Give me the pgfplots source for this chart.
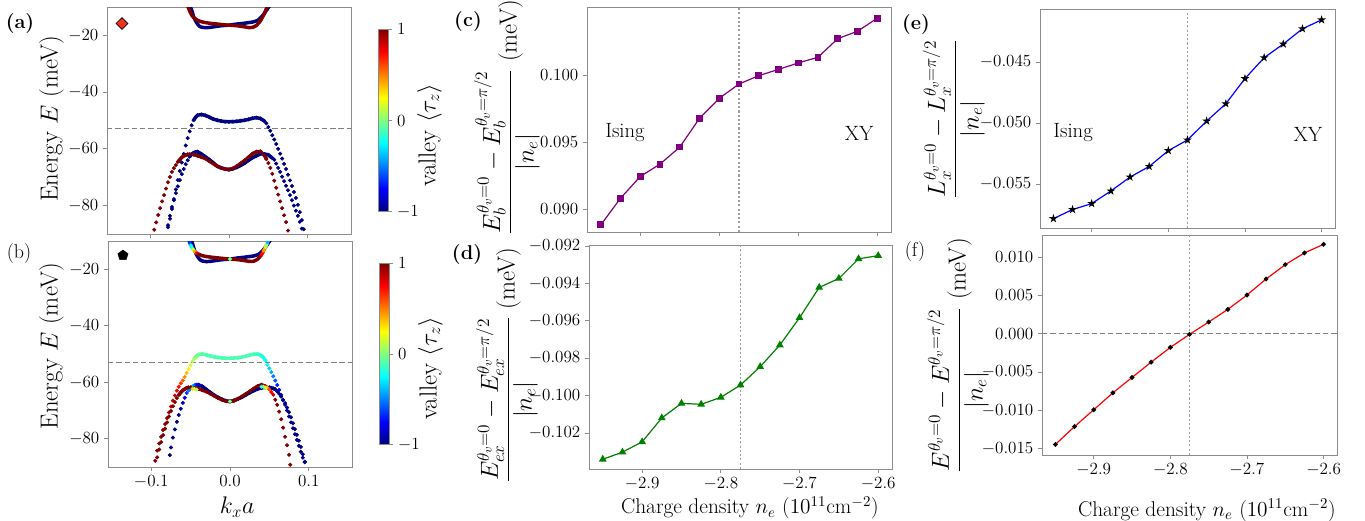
\RequirePackage{fix-cm}
\documentclass[border=0pt]{standalone}
\usepackage{pgfplots}
\usepackage{pgfplotstable}
\pgfplotsset{compat=1.18}
\usetikzlibrary{plotmarks}
\definecolor{jr}{rgb}{0.5,0,0}
\definecolor{jb}{rgb}{0,0,0.5}
\definecolor{dred}{rgb}{0.93,0.2,0.12}
\definecolor{pur}{rgb}{0.5,0,0.5}
\definecolor{grn}{rgb}{0,0.5,0}
\newcommand\fs[1]{\fontsize{#1}{#1}\selectfont}
\pgfdeclareplotmark{fstar}{%
 \pgfpathmoveto{\pgfqpoint{0pt}{\pgfplotmarksize}}%
 \pgfpathlineto{\pgfqpoint{0.2245\pgfplotmarksize}{0.309\pgfplotmarksize}}%
 \pgfpathlineto{\pgfqpoint{0.951\pgfplotmarksize}{0.309\pgfplotmarksize}}%
 \pgfpathlineto{\pgfqpoint{0.3633\pgfplotmarksize}{-0.118\pgfplotmarksize}}%
 \pgfpathlineto{\pgfqpoint{0.5878\pgfplotmarksize}{-0.809\pgfplotmarksize}}%
 \pgfpathlineto{\pgfqpoint{0pt}{-0.382\pgfplotmarksize}}%
 \pgfpathlineto{\pgfqpoint{-0.5878\pgfplotmarksize}{-0.809\pgfplotmarksize}}%
 \pgfpathlineto{\pgfqpoint{-0.3633\pgfplotmarksize}{-0.118\pgfplotmarksize}}%
 \pgfpathlineto{\pgfqpoint{-0.951\pgfplotmarksize}{0.309\pgfplotmarksize}}%
 \pgfpathlineto{\pgfqpoint{-0.2245\pgfplotmarksize}{0.309\pgfplotmarksize}}%
 \pgfpathclose
 \pgfusepathqfillstroke}

\pgfplotsset{
 base/.style={scale only axis, axis line style={black!45}, tick align=outside, tick pos=left,
   major tick length=3pt, tick style={black!45, line width=0.6pt},
   tick label style={font=\fs{12.8}}, scaled x ticks=false, scaled y ticks=false},
 cbar/.style={scale only axis, width=7.5pt, at={(parent axis.east)}, anchor=west, xshift=12pt,
   ytick={-1,0,1}, yticklabels={$-1$,$0$,$1$}, yticklabel style={font=\fs{12.8}},
   axis line style={black!45}, ytick style={black!45, line width=0.6pt}, major tick length=3pt,
   tick align=outside, ytick pos=right, yticklabel pos=right,
   ylabel={valley $\langle\tau_z\rangle$},
   ylabel style={font=\fs{18.5}, at={(axis description cs:5.1,0.42)}, anchor=center}},
 bandpt/.style={only marks, mark=*, mark size=1.3pt},
 bandln/.style={line width=2.6pt, line cap=round, line join=round, unbounded coords=jump, no marks},
 scpt/.style={scatter, only marks, mark=*, mark size=1.3pt, scatter src=explicit,
   scatter/use mapped color={draw=mapped color, fill=mapped color}},
 scln/.style={mesh, line width=2.6pt, line cap=round, point meta=explicit, unbounded coords=jump, no marks},
 vdot/.style={black!38, line width=0.8pt, dash pattern=on 1.6pt off 1.6pt},
 hdash/.style={black!50, line width=0.8pt, dash pattern=on 4pt off 2.2pt},
}

% ---------- panel (a) bands ----------
\pgfplotstableread{
k E
-0.0775 -87.6
-0.0750 -84.6
-0.0725 -81.2
-0.0700 -77.7
-0.0675 -74.3
-0.0650 -71.0
-0.0625 -67.8
-0.0600 -64.8
-0.0575 -61.8
-0.0550 -58.8
-0.0525 -56.2
-0.0500 -53.8
-0.0475 -51.7
-0.0450 -49.9
-0.0425 -48.9
-0.0400 -48.15
-0.0350 -47.9
-0.0300 -48.2
-0.0250 -48.8
-0.0200 -49.5
-0.0150 -49.9
-0.0100 -50.2
-0.0050 -50.4
0.0000 -50.45
0.0050 -50.4
0.0100 -50.3
0.0150 -50.1
0.0200 -49.9
0.0250 -49.6
0.0300 -49.2
0.0350 -49.0
0.0400 -49.3
0.0450 -50.2
0.0475 -51.0
0.0500 -52.3
0.0525 -53.6
0.0550 -55.2
0.0575 -56.7
0.0600 -58.3
0.0625 -60.0
0.0650 -61.7
0.0675 -63.4
0.0700 -65.3
0.0725 -67.1
0.0750 -69.1
0.0775 -71.1
0.0800 -73.1
0.0825 -75.2
0.0850 -77.3
0.0875 -79.7
0.0900 -82.3
0.0925 -85.1
0.0950 -88.3
}\aT
\pgfplotstableread{
k E
-0.0775 -86.9
-0.0750 -83.6
-0.0725 -80.5
-0.0700 -78.1
-0.0675 -75.6
-0.0650 -73.2
-0.0625 -71.0
-0.0600 -68.9
-0.0575 -67.1
-0.0550 -65.4
-0.0525 -64.0
-0.0500 -62.75
-0.0475 -61.9
-0.0450 -61.4
-0.0425 -61.1
-0.0400 -61.0
-0.0350 -61.8
-0.0300 -62.8
-0.0250 -63.8
-0.0200 -64.9
-0.0150 -66.1
-0.0100 -66.7
-0.0050 -67.1
0.0000 -67.3
0.0050 -67.0
0.0100 -66.5
0.0150 -65.8
0.0200 -65.0
0.0250 -64.0
0.0300 -63.1
0.0350 -62.4
0.0400 -61.8
0.0450 -61.8
0.0500 -62.1
0.0525 -62.7
0.0550 -63.2
0.0575 -63.8
0.0600 -65.2
0.0625 -66.7
0.0650 -68.1
0.0675 -69.8
0.0700 -71.4
0.0725 -73.0
0.0750 -74.6
0.0775 -76.3
0.0800 -78.1
0.0825 -80.0
0.0850 -81.8
0.0875 -83.6
0.0900 -85.7
0.0925 -88.1
}\aB
\pgfplotstableread{
k E
-0.0950 -88.5
-0.0925 -85.9
-0.0900 -83.3
-0.0875 -80.9
-0.0850 -78.5
-0.0825 -76.3
-0.0800 -74.0
-0.0775 -71.8
-0.0750 -69.9
-0.0725 -68.1
-0.0700 -66.8
-0.0675 -65.7
-0.0650 -64.6
-0.0625 -63.8
-0.0600 -63.0
-0.0575 -62.5
-0.0550 -62.2
-0.0525 -61.95
-0.0500 -61.9
-0.0450 -62.0
-0.0400 -62.4
-0.0350 -62.9
-0.0300 -63.4
-0.0250 -64.3
-0.0200 -65.2
-0.0150 -66.1
-0.0100 -66.7
-0.0050 -67.1
0.0000 -67.3
0.0050 -66.9
0.0100 -66.1
0.0150 -65.1
0.0200 -64.1
0.0250 -62.9
0.0300 -61.7
0.0350 -61.0
0.0400 -60.9
0.0450 -62.3
0.0475 -63.6
0.0500 -65.0
0.0525 -66.7
0.0550 -68.8
0.0575 -71.2
0.0600 -73.7
0.0625 -76.1
0.0650 -78.5
0.0675 -80.9
0.0700 -83.4
0.0725 -85.8
0.0750 -88.8
}\aC
\pgfplotstableread{
k E
-0.0525 -9.6
-0.0500 -11.4
-0.0475 -12.8
-0.0450 -13.7
-0.0425 -14.2
-0.0400 -14.7
-0.0350 -15.2
-0.0300 -15.5
-0.0250 -15.7
-0.0200 -15.85
-0.0150 -16.0
-0.0100 -16.15
-0.0050 -16.3
0.0000 -16.4
0.0050 -16.5
0.0100 -16.6
0.0150 -16.8
0.0200 -17.0
0.0250 -17.25
0.0300 -17.2
0.0350 -16.5
0.0375 -15.7
0.0400 -14.9
0.0425 -13.6
0.0450 -12.3
0.0475 -10.6
0.0490 -9.6
}\aCr
\pgfplotstableread{
k E
-0.0500 -9.6
-0.0475 -11.0
-0.0450 -13.4
-0.0425 -14.9
-0.0400 -16.0
-0.0375 -16.8
-0.0350 -17.1
-0.0300 -17.3
-0.0250 -17.2
-0.0200 -17.0
-0.0150 -16.8
-0.0100 -16.6
-0.0050 -16.5
0.0000 -16.4
0.0050 -16.2
0.0100 -16.0
0.0150 -15.85
0.0200 -15.7
0.0250 -15.5
0.0300 -15.3
0.0350 -14.9
0.0375 -14.5
0.0400 -13.8
0.0425 -13.1
0.0450 -12.2
0.0475 -11.2
0.0500 -10.2
0.0525 -9.2
}\aCb

% ---------- panel (b) bands (k, E, valley) ----------
\pgfplotstableread{
k E c
-0.0950 -87.8 1
-0.0925 -84.2 1
-0.0900 -81.7 1
-0.0875 -79.3 1
-0.0850 -76.9 1
-0.0825 -74.8 0.97
-0.0800 -72.7 0.95
-0.0775 -70.7 0.92
-0.0750 -68.6 0.9
-0.0725 -66.5 0.87
-0.0700 -64.7 0.83
-0.0675 -63.0 0.78
-0.0650 -61.6 0.73
-0.0625 -60.4 0.65
-0.0600 -59.4 0.57
-0.0575 -58.1 0.48
-0.0550 -56.7 0.38
-0.0525 -55.3 0.28
-0.0500 -53.9 0.18
-0.0475 -52.5 0.1
-0.0450 -51.5 0.03
-0.0425 -50.7 0
-0.0400 -50.2 -0.05
-0.0350 -50.0 -0.08
-0.0300 -50.3 -0.1
-0.0250 -50.7 -0.1
-0.0200 -51.0 -0.1
-0.0150 -51.25 -0.1
-0.0100 -51.4 -0.1
-0.0050 -51.5 -0.1
0.0000 -51.5 -0.1
0.0050 -51.45 -0.1
0.0100 -51.3 -0.1
0.0150 -51.1 -0.1
0.0200 -50.8 -0.1
0.0250 -50.4 -0.1
0.0300 -50.1 -0.12
0.0350 -50.0 -0.14
0.0400 -50.6 -0.18
0.0425 -51.3 -0.2
0.0450 -52.3 -0.22
0.0475 -53.8 -0.26
0.0500 -55.1 -0.33
0.0525 -56.4 -0.42
0.0550 -57.9 -0.5
0.0575 -59.4 -0.6
0.0600 -61.0 -0.68
0.0625 -62.7 -0.75
0.0650 -64.5 -0.8
0.0675 -66.3 -0.85
0.0700 -68.0 -0.9
0.0725 -70.0 -0.93
0.0750 -72.1 -0.96
0.0775 -74.2 -1
0.0800 -76.3 -1
0.0825 -78.4 -1
0.0850 -80.4 -1
0.0875 -82.5 -1
0.0900 -84.6 -1
0.0925 -86.7 -1
0.0950 -88.3 -1
}\bT
\pgfplotstableread{
k E c
-0.0765 -85.8 -1
-0.0750 -83.1 -1
-0.0725 -79.6 -1
-0.0700 -76.7 -1
-0.0675 -74.0 -1
-0.0650 -71.6 -1
-0.0625 -69.4 -0.95
-0.0600 -67.3 -0.9
-0.0575 -65.5 -0.8
-0.0550 -63.8 -0.65
-0.0525 -62.9 -0.5
-0.0500 -62.1 -0.4
-0.0475 -61.5 -0.4
-0.0450 -61.1 -0.5
-0.0425 -60.9 -0.7
-0.0400 -60.9 -0.85
-0.0350 -61.5 -1
-0.0300 -62.6 -1
-0.0250 -63.6 -1
-0.0200 -64.6 -1
-0.0150 -65.4 -1
-0.0100 -66.1 -1
-0.0050 -66.6 -1
0.0000 -66.8 -1
0.0050 -66.5 -1
0.0100 -65.9 -1
0.0150 -65.3 -1
0.0200 -64.5 -1
0.0250 -63.7 -1
0.0300 -63.0 -1
0.0350 -62.4 -1
0.0400 -62.0 -1
0.0450 -61.8 -1
0.0500 -61.8 -1
0.0525 -62.0 -1
0.0550 -62.2 -1
0.0575 -62.5 -1
0.0600 -63.3 -1
0.0625 -64.1 -1
0.0650 -65.1 -1
0.0675 -66.3 -1
0.0700 -67.4 -1
0.0725 -69.0 -1
0.0750 -70.6 -1
0.0775 -72.4 -1
0.0800 -74.5 -1
0.0825 -76.6 -1
0.0850 -78.6 -1
0.0875 -80.7 -1
0.0900 -82.9 -1
0.0925 -85.5 -1
0.0950 -88.1 -1
}\bB
\pgfplotstableread{
k E c
-0.0925 -86.6 1
-0.0900 -83.8 1
-0.0875 -81.2 1
-0.0850 -78.7 1
-0.0825 -76.4 1
-0.0800 -74.2 1
-0.0775 -72.1 1
-0.0750 -70.2 1
-0.0725 -68.5 1
-0.0700 -67.0 1
-0.0675 -65.6 1
-0.0650 -64.5 1
-0.0625 -63.6 1
-0.0600 -62.9 1
-0.0575 -62.4 1
-0.0550 -62.0 1
-0.0525 -61.8 1
-0.0500 -61.8 1
-0.0450 -62.0 1
-0.0400 -62.3 1
-0.0350 -62.8 1
-0.0300 -63.3 1
-0.0250 -64.0 1
-0.0200 -64.8 1
-0.0150 -65.6 1
-0.0100 -66.2 1
-0.0050 -66.7 1
0.0000 -66.8 1
0.0050 -66.5 1
0.0100 -65.9 1
0.0150 -65.1 1
0.0200 -64.2 1
0.0250 -63.3 1
0.0300 -62.3 1
0.0350 -61.4 1
0.0400 -60.9 1
0.0450 -61.4 0.9
0.0475 -62.0 0.4
0.0500 -62.6 0.6
0.0525 -63.5 0.75
0.0550 -64.4 0.85
0.0575 -66.2 1
0.0600 -68.0 1
0.0625 -70.4 1
0.0650 -73.1 1
0.0675 -76.1 1
0.0700 -79.3 1
0.0725 -82.3 1
0.0750 -85.7 1
0.0765 -89.2 1
}\bC
\pgfplotstableread{
k E c
-0.0525 -9.6 -0.8
-0.0500 -11.4 -0.5
-0.0475 -12.8 0.0
-0.0450 -13.7 0.3
-0.0425 -14.2 0.6
-0.0400 -14.7 1
-0.0350 -15.2 1
-0.0300 -15.5 1
-0.0250 -15.7 1
-0.0200 -15.85 1
-0.0150 -16.0 1
-0.0100 -16.15 1
-0.0050 -16.3 1
0.0000 -16.4 1
0.0050 -16.5 1
0.0100 -16.6 1
0.0150 -16.8 1
0.0200 -17.0 1
0.0250 -17.25 1
0.0300 -17.2 1
0.0350 -16.5 1
0.0375 -15.7 1
0.0400 -14.9 0.9
0.0425 -13.6 0.6
0.0450 -12.3 0.3
0.0475 -10.6 -0.1
0.0490 -9.6 -0.7
}\bCr
\pgfplotstableread{
k E c
-0.0500 -9.6 -1
-0.0475 -11.0 -1
-0.0450 -13.4 -1
-0.0425 -14.9 -1
-0.0400 -16.0 -1
-0.0375 -16.8 -1
-0.0350 -17.1 -1
-0.0300 -17.3 -1
-0.0250 -17.2 -1
-0.0200 -17.0 -1
-0.0150 -16.8 -1
-0.0100 -16.6 -1
-0.0050 -16.5 -1
0.0000 -16.4 -1
0.0050 -16.2 -1
0.0100 -16.0 -1
0.0150 -15.85 -1
0.0200 -15.7 -1
0.0250 -15.5 -1
0.0300 -15.3 -1
0.0350 -14.9 -1
0.0375 -14.5 -1
0.0400 -13.8 -1
0.0425 -13.1 -1
0.0450 -12.2 -1
0.0475 -11.2 -1
0.0500 -10.2 -1
0.0525 -9.2 -1
}\bCb
\pgfplotstableread{
k E c
-0.0475 -62.3 0.35
-0.0450 -62.4 0.2
-0.0425 -62.6 0.1
0.0000 -66.8 0.0
0.0000 -16.4 0.0
0.0400 -61.6 -0.2
0.0425 -61.6 -0.05
0.0450 -61.9 0.15
}\bG

% ---------- panels (c)-(f) ----------
\pgfplotstableread{
n Eb Eex Lx E
-2.950 0.08883 -0.10341 -0.05783 -0.01443
-2.925 0.09082 -0.10303 -0.05709 -0.01209
-2.900 0.09244 -0.10248 -0.05660 -0.00991
-2.875 0.09336 -0.10120 -0.05557 -0.00770
-2.850 0.09463 -0.10042 -0.05443 -0.00570
-2.825 0.09677 -0.10047 -0.05356 -0.00370
-2.800 0.09826 -0.10010 -0.05226 -0.00178
-2.775 0.09933 -0.09944 -0.05139 -0.00009
-2.750 0.09995 -0.09846 -0.04984 0.00152
-2.725 0.10042 -0.09730 -0.04842 0.00317
-2.700 0.10090 -0.09584 -0.04636 0.00504
-2.675 0.10132 -0.09422 -0.04465 0.00713
-2.650 0.10271 -0.09374 -0.04353 0.00900
-2.625 0.10326 -0.09269 -0.04228 0.01052
-2.600 0.10423 -0.09252 -0.04155 0.01165
}\dens

\begin{document}
\begin{tikzpicture}
\useasboundingbox (0,0) rectangle (1023.75pt,390.75pt);

% (a)
\begin{axis}[base, at={(80.25pt,215.25pt)}, anchor=south west, width=183pt, height=170.25pt,
  xmin=-0.155, xmax=0.155, ymin=-90, ymax=-10,
  xtick={-0.1,0,0.1}, xticklabels={},
  ytick={-80,-60,-40,-20}, yticklabels={$-80$,$-60$,$-40$,$-20$},
  ylabel={Energy $E$ (meV)},
  ylabel style={font=\fs{18.5}, at={(axis description cs:-0.228,0.507)}, anchor=center},
  colormap/jet, point meta min=-1, point meta max=1,
  colorbar, colorbar style={cbar, height=136.5pt}]
\addplot[jb, bandln, restrict x to domain=-0.045:0.047] table {\aT};
\addplot[jb, bandpt] table {\aT};
\addplot[jb, bandln, restrict x to domain=-0.052:0.056] table {\aB};
\addplot[jb, bandpt] table {\aB};
\addplot[jr, bandln, restrict x to domain=-0.066:0.049] table {\aC};
\addplot[jr, bandpt] table {\aC};
\addplot[jb, bandln] table {\aCb};
\addplot[jr, bandln] table {\aCr};
\addplot[hdash] coordinates {(-0.155,-52.8) (0.155,-52.8)};
\addplot[only marks, mark=diamond*, mark size=4.4pt, mark options={xscale=1.35, fill=dred, draw=black, line width=0.5pt}] coordinates {(-0.136,-15.8)};
\end{axis}

% (b)
\begin{axis}[base, at={(81pt,40.5pt)}, anchor=south west, width=183pt, height=169.5pt,
  xmin=-0.155, xmax=0.155, ymin=-90, ymax=-10,
  xtick={-0.1,0,0.1}, xticklabels={$-0.1$,$0.0$,$0.1$},
  ytick={-80,-60,-40,-20}, yticklabels={$-80$,$-60$,$-40$,$-20$},
  ylabel={Energy $E$ (meV)},
  ylabel style={font=\fs{18.5}, at={(axis description cs:-0.232,0.535)}, anchor=center},
  xlabel={$k_xa$},
  xlabel style={font=\fs{18}, at={(axis description cs:0.529,-0.177)}, anchor=center},
  colormap/jet, point meta min=-1, point meta max=1,
  colorbar, colorbar style={cbar, height=135.75pt}]
\addplot[scln, restrict x to domain=-0.046:0.046] table[meta=c] {\bT};
\addplot[scpt] table[meta=c] {\bT};
\addplot[scln, restrict x to domain=-0.053:0.058] table[meta=c] {\bB};
\addplot[scpt] table[meta=c] {\bB};
\addplot[scln, restrict x to domain=-0.066:0.049] table[meta=c] {\bC};
\addplot[scpt] table[meta=c] {\bC};
\addplot[scln] table[meta=c] {\bCb};
\addplot[scln] table[meta=c] {\bCr};
\addplot[scpt] table[meta=c] {\bG};
\addplot[hdash] coordinates {(-0.155,-52.9) (0.155,-52.9)};
\addplot[only marks, mark=pentagon*, mark size=4pt, mark options={fill=black, draw=black}] coordinates {(-0.136,-15.1)};
\end{axis}

% (c)
\begin{axis}[base, at={(440.25pt,216.75pt)}, anchor=south west, width=228pt, height=168.75pt,
  xmin=-2.9675, xmax=-2.5825, ymin=0.0883, ymax=0.10507,
  xtick={-2.9,-2.8,-2.7,-2.6}, xticklabels={},
  ytick={0.090,0.095,0.100}, yticklabels={$0.090$,$0.095$,$0.100$},
  ylabel={$\displaystyle\frac{E_b^{\theta_v=0}-E_b^{\theta_v=\pi/2}}{|n_e|}$ (meV)},
  ylabel style={font=\fs{18.5}, at={(axis description cs:-0.263,0.509)}, anchor=center}]
\addplot[vdot] coordinates {(-2.775,0.0883) (-2.775,0.10507)};
\addplot[pur, line width=0.9pt, mark=square*, mark size=2.1pt] table[x=n, y=Eb] {\dens};
\node[font=\fs{15.5}] at (rel axis cs:0.125,0.44) {Ising};
\node[font=\fs{15.5}] at (rel axis cs:0.895,0.436) {XY};
\end{axis}

% (d)
\begin{axis}[base, at={(441.75pt,39pt)}, anchor=south west, width=227.25pt, height=168pt,
  xmin=-2.9675, xmax=-2.5825, ymin=-0.10393, ymax=-0.09195,
  xtick={-2.9,-2.8,-2.7,-2.6}, xticklabels={$-2.9$,$-2.8$,$-2.7$,$-2.6$},
  ytick={-0.102,-0.100,-0.098,-0.096,-0.094,-0.092},
  yticklabels={$-0.102$,$-0.100$,$-0.098$,$-0.096$,$-0.094$,$-0.092$},
  ylabel={$\displaystyle\frac{E_{ex}^{\theta_v=0}-E_{ex}^{\theta_v=\pi/2}}{|n_e|}$ (meV)},
  ylabel style={font=\fs{18.5}, at={(axis description cs:-0.271,0.464)}, anchor=center},
  xlabel={Charge density $n_e$ ($10^{11}$cm$^{-2}$)},
  xlabel style={font=\fs{16}, at={(axis description cs:0.531,-0.174)}, anchor=center}]
\addplot[vdot] coordinates {(-2.775,-0.10393) (-2.775,-0.09195)};
\addplot[grn, line width=0.9pt, mark=triangle*, mark size=2.5pt] table[x=n, y=Eex] {\dens};
\end{axis}

% (e)
\begin{axis}[base, at={(780pt,219.75pt)}, anchor=south west, width=221.25pt, height=164.25pt,
  xmin=-2.9675, xmax=-2.5825, ymin=-0.0586, ymax=-0.04066,
  xtick={-2.9,-2.8,-2.7,-2.6}, xticklabels={},
  ytick={-0.055,-0.050,-0.045}, yticklabels={$-0.055$,$-0.050$,$-0.045$},
  ylabel={$\displaystyle\frac{L_x^{\theta_v=0}-L_x^{\theta_v=\pi/2}}{|n_e|}$},
  ylabel style={font=\fs{18.5}, at={(axis description cs:-0.292,0.498)}, anchor=center}]
\addplot[vdot] coordinates {(-2.775,-0.0586) (-2.775,-0.04066)};
\addplot[blue, line width=0.9pt, mark=fstar, mark size=2.0pt, mark options={black, fill=black}] table[x=n, y=Lx] {\dens};
\node[font=\fs{15.5}] at (rel axis cs:0.112,0.438) {Ising};
\node[font=\fs{15.5}] at (rel axis cs:0.908,0.425) {XY};
\end{axis}

% (f)
\begin{axis}[base, at={(781.5pt,49.5pt)}, anchor=south west, width=221.25pt, height=165pt,
  xmin=-2.9675, xmax=-2.5825, ymin=-0.0158, ymax=0.01286,
  xtick={-2.9,-2.8,-2.7,-2.6}, xticklabels={$-2.9$,$-2.8$,$-2.7$,$-2.6$},
  ytick={-0.015,-0.010,-0.005,0,0.005,0.010},
  yticklabels={$-0.015$,$-0.010$,$-0.005$,$0.000$,$0.005$,$0.010$},
  ylabel={$\displaystyle\frac{E^{\theta_v=0}-E^{\theta_v=\pi/2}}{|n_e|}$ (meV)},
  ylabel style={font=\fs{18.5}, at={(axis description cs:-0.285,0.452)}, anchor=center},
  xlabel={Charge density $n_e$ ($10^{11}$cm$^{-2}$)},
  xlabel style={font=\fs{16}, at={(axis description cs:0.559,-0.25)}, anchor=center}]
\addplot[vdot] coordinates {(-2.775,-0.0158) (-2.775,0.01286)};
\addplot[hdash] coordinates {(-2.9675,0) (-2.5825,0)};
\addplot[red, line width=0.9pt, mark=*, mark size=1.3pt, mark options={black, fill=black}] table[x=n, y=E] {\dens};
\end{axis}

\node[font=\fs{15}] at (15pt,372.75pt) {\textbf{(a)}};
\node[font=\fs{15}] at (14.25pt,200.25pt) {(b)};
\node[font=\fs{15}] at (351pt,374.25pt) {\textbf{(c)}};
\node[font=\fs{15}] at (350.25pt,199.5pt) {\textbf{(d)}};
\node[font=\fs{15}] at (687pt,372pt) {\textbf{(e)}};
\node[font=\fs{15}] at (686.25pt,201.75pt) {(f)};
\end{tikzpicture}
\end{document}
